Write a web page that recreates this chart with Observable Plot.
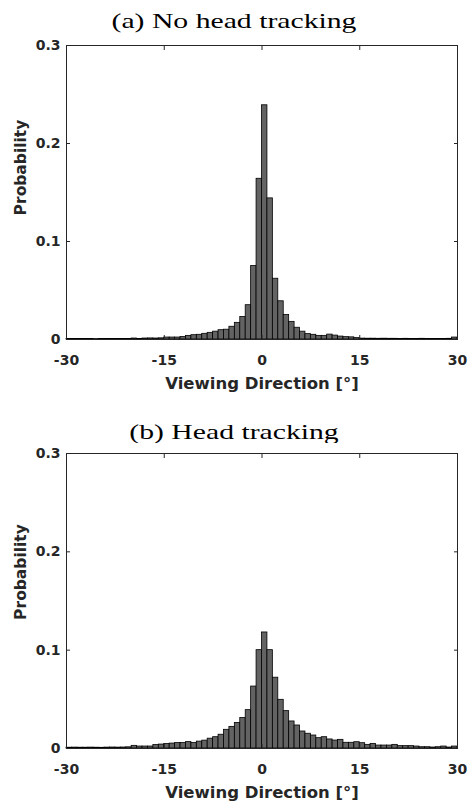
<!DOCTYPE html>
<html><head><meta charset="utf-8">
<script src="https://cdn.jsdelivr.net/npm/d3@7"></script>
<script src="https://cdn.jsdelivr.net/npm/@observablehq/plot@0.6"></script>
<style>
body{margin:0;background:#fff;width:468px;height:805px;position:relative;overflow:hidden;font-family:"DejaVu Sans",sans-serif}
.title{position:absolute;left:0;width:468px;text-align:center;font-family:"Liberation Serif",serif;font-size:22px;color:#000;line-height:22px;transform:scaleX(1.35);transform-origin:234px 0;white-space:nowrap}
.panel{position:absolute;left:0}
</style></head><body>
<div class="title" id="ta" style="top:10px">(a) No head tracking</div>
<div class="panel" id="pa" style="top:35px"></div>
<div class="title" id="tb" style="top:421px">(b) Head tracking</div>
<div class="panel" id="pb" style="top:443px"></div>
<script>
// Histogram bins: 72 bins of equal width spanning -30° .. 30°
const binStart = -30;
const binWidth = 60 / 72;

// (a) No head tracking — probability per bin, left to right
const probNoTracking = [
  0.0006, 0.0005, 0.0005, 0.0006, 0.0005, 0.0004, 0.0005, 0.0005, 0.0006, 0.0005, 0.0005, 0.0006,
  0.0010, 0.0006, 0.0010, 0.0011, 0.0010, 0.0012,
  0.0020, 0.0020, 0.0020, 0.0025, 0.0037, 0.0044, 0.0048, 0.0058, 0.0068, 0.0080, 0.0095, 0.0100,
  0.0130, 0.0170, 0.0230, 0.0350, 0.0750, 0.1640,
  0.2390, 0.1440, 0.0620, 0.0390, 0.0250, 0.0180, 0.0120, 0.0080, 0.0055, 0.0048, 0.0037, 0.0037,
  0.0050, 0.0040, 0.0030, 0.0024, 0.0022, 0.0014,
  0.0009, 0.0008, 0.0008, 0.0007, 0.0008, 0.0007, 0.0007, 0.0006, 0.0007, 0.0006, 0.0006, 0.0007,
  0.0006, 0.0006, 0.0005, 0.0006, 0.0007, 0.0020
];

// (b) Head tracking — probability per bin, left to right
const probHeadTracking = [
  0.0008, 0.0009, 0.0008, 0.0008, 0.0009, 0.0008, 0.0007, 0.0009, 0.0010, 0.0009, 0.0010, 0.0012,
  0.0027, 0.0020, 0.0020, 0.0020, 0.0035, 0.0040, 0.0045, 0.0050, 0.0055, 0.0055, 0.0065, 0.0055,
  0.0070, 0.0080, 0.0100, 0.0115, 0.0140, 0.0190, 0.0220, 0.0260, 0.0310, 0.0390, 0.0630, 0.1000,
  0.1180, 0.1000, 0.0720, 0.0495, 0.0380, 0.0275, 0.0234, 0.0173, 0.0150, 0.0132, 0.0105, 0.0115,
  0.0092, 0.0081, 0.0088, 0.0058, 0.0058, 0.0064, 0.0054, 0.0037, 0.0047, 0.0030, 0.0030, 0.0030,
  0.0037, 0.0024, 0.0024, 0.0024, 0.0020, 0.0013, 0.0013, 0.0010, 0.0013, 0.0020, 0.0010, 0.0020
];

const xTicks = [-30, -15, 0, 15, 30];
const yTicks = [0, 0.1, 0.2, 0.3];
const xLabel = "Viewing Direction [°]";
const yLabel = "Probability";

function panel(values, height, marginBottom, yLabelShift) {
  const bins = values.map((p, i) => ({x1: binStart + i * binWidth, x2: binStart + (i + 1) * binWidth, p}));
  return Plot.plot({
    width: 468,
    height,
    marginTop: 10,
    marginLeft: 66,
    marginRight: 11,
    marginBottom,
    style: {fontFamily: "DejaVu Sans", fontWeight: "bold", fontSize: "14px", color: "#262626", background: "#fff", overflow: "visible"},
    x: {domain: [-30, 30]},
    y: {domain: [0, 0.3]},
    marks: [
      Plot.rectY(bins, {x1: "x1", x2: "x2", y: "p", fill: "#636363", stroke: "#000", strokeWidth: 0.8, inset: 0}),
      Plot.frame({stroke: "#262626", strokeWidth: 1}),
      Plot.axisX({ticks: xTicks, anchor: "bottom", tickSize: -4, tickPadding: 20, tickFormat: d => String(d), label: null}),
      Plot.axisX({ticks: xTicks, anchor: "top", tickSize: -4, tickFormat: () => "", label: null}),
      Plot.axisY({ticks: yTicks, anchor: "left", tickSize: -4, tickPadding: 10, tickFormat: d => String(d), label: null}),
      Plot.axisY({ticks: yTicks, anchor: "right", tickSize: -4, tickFormat: () => "", label: null}),
      Plot.text([xLabel], {text: d => d, frameAnchor: "bottom", textAnchor: "middle", dy: 49, fontSize: 16.5, fill: "#262626"}),
      Plot.text([yLabel], {text: d => d, frameAnchor: "left", textAnchor: "middle", lineAnchor: "middle", rotate: -90, dx: -45, dy: yLabelShift, fontSize: 15.5, fill: "#262626"})
    ]
  });
}

document.getElementById("pa").append(panel(probNoTracking, 365, 61, -25));
document.getElementById("pb").append(panel(probHeadTracking, 362, 57, -29));
</script>
</body></html>
